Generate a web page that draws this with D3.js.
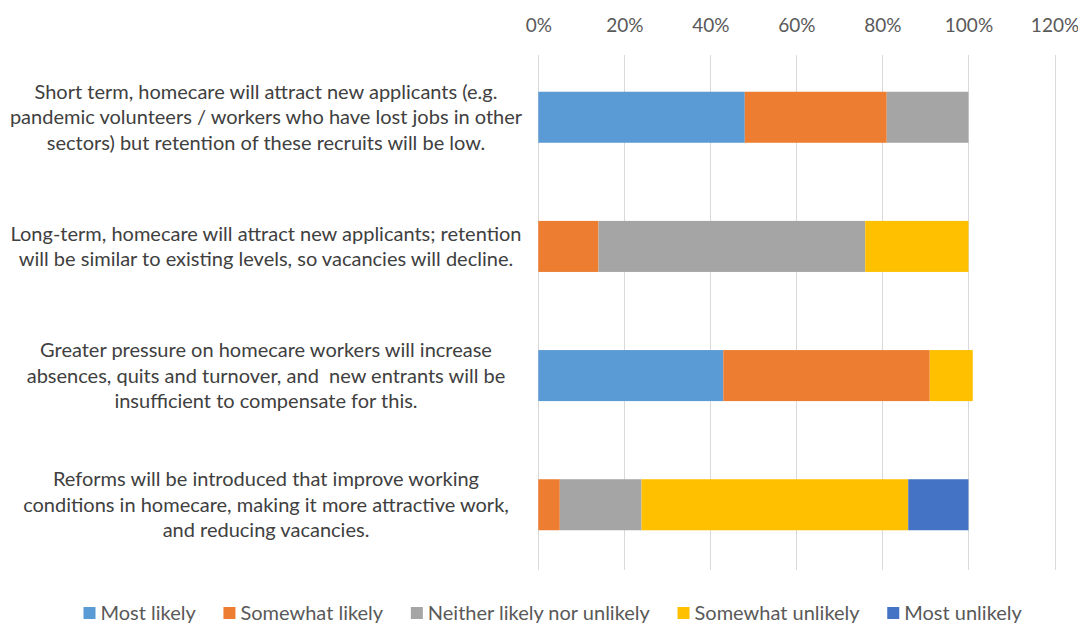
<!DOCTYPE html>
<html>
<head>
<meta charset="utf-8">
<script src="https://cdn.jsdelivr.net/npm/d3@7/dist/d3.min.js"></script>
<style>
  body { margin: 0; background: #fff; }
  text { font-family: Lato, "Open Sans", sans-serif; white-space: pre; }
</style>
</head>
<body>
<script>
var width = 1078,
    height = 623;

// statements, already broken into the lines used on the chart
var categories = [
  ["Short term, homecare will attract new applicants (e.g.",
   "pandemic volunteers / workers who have lost jobs in other",
   "sectors) but retention of these recruits will be low."],
  ["Long-term, homecare will attract new applicants; retention",
   "will be similar to existing levels, so vacancies will decline."],
  ["Greater pressure on homecare workers will increase",
   "absences, quits and turnover, and  new entrants will be",
   "insufficient to compensate for this."],
  ["Reforms will be introduced that improve working",
   "conditions in homecare, making it more attractive work,",
   "and reducing vacancies."]
];

var seriesNames = ["Most likely", "Somewhat likely", "Neither likely nor unlikely", "Somewhat unlikely", "Most unlikely"];
var seriesColors = ["#5B9BD5", "#ED7D31", "#A5A5A5", "#FFC000", "#4472C4"];

// percent per statement, in series order
var mostLikely        = [48, 0, 43, 0];
var somewhatLikely    = [33, 14, 48, 5];
var neither           = [19, 62, 0, 19];
var somewhatUnlikely  = [0, 24, 10, 62];
var mostUnlikely      = [0, 0, 0, 14];

var tickValues = [0, 0.2, 0.4, 0.6, 0.8, 1.0, 1.2];

var seriesValues = [mostLikely, somewhatLikely, neither, somewhatUnlikely, mostUnlikely];

var rows = categories.map(function(c, i) {
  var r = { idx: i };
  seriesNames.forEach(function(s, j) { r[s] = seriesValues[j][i] / 100; });
  return r;
});

var stacked = d3.stack().keys(seriesNames)(rows);

var x = d3.scaleLinear()
    .domain([0, 1.2])
    .range([538.3, 1054.5]);

var y = d3.scaleBand()
    .domain(d3.range(categories.length))
    .range([53, 569])
    .paddingInner(0.605)
    .paddingOuter(0.3);

var svg = d3.select("body").append("svg")
    .attr("width", width)
    .attr("height", height);

// gridlines
svg.append("g").selectAll("line")
    .data(tickValues)
    .enter().append("line")
    .attr("x1", d => Math.round(x(d)) + 0.5)
    .attr("x2", d => Math.round(x(d)) + 0.5)
    .attr("y1", 55)
    .attr("y2", 570)
    .attr("stroke", "#d9d9d9")
    .attr("stroke-width", 1);

// top axis labels
var xAxis = d3.axisTop(x)
    .tickValues(tickValues)
    .tickFormat(d3.format(".0%"))
    .tickSize(0)
    .tickPadding(0);

var ax = svg.append("g")
    .attr("transform", "translate(0,32)")
    .call(xAxis);
ax.select(".domain").remove();
ax.selectAll("text")
    .attr("fill", "#595959")
    .style("font-size", "19px")
    .style("font-family", "Lato, sans-serif");

// bars
svg.append("g").selectAll("g")
    .data(stacked)
    .enter().append("g")
    .attr("fill", (d, i) => seriesColors[i])
    .selectAll("rect")
    .data(d => d)
    .enter().append("rect")
    .attr("x", d => x(d[0]))
    .attr("width", d => x(d[1]) - x(d[0]))
    .attr("y", (d, i) => y(i))
    .attr("height", y.bandwidth());

// category labels
var lineH = 25.5;
var lab = svg.append("g").selectAll("text")
    .data(categories)
    .enter().append("text")
    .attr("text-anchor", "middle")
    .attr("fill", "#404040")
    .style("font-size", "20px");

lab.each(function(lines, i) {
  var cy = y(i) + y.bandwidth() / 2;
  var top = cy - (lines.length - 1) * lineH / 2;
  d3.select(this).selectAll("tspan")
    .data(lines)
    .enter().append("tspan")
    .attr("x", 266)
    .attr("y", (l, k) => top + k * lineH)
    .attr("dy", "0.35em")
    .text(l => l);
});

// legend
var legend = svg.append("g");
var lx = 0, gap = 27;
var items = legend.selectAll("g")
    .data(seriesNames)
    .enter().append("g");

items.append("rect")
    .attr("width", 12)
    .attr("height", 12)
    .attr("y", -6)
    .attr("fill", (d, i) => seriesColors[i]);

items.append("text")
    .attr("x", 17)
    .attr("dy", "0.35em")
    .attr("fill", "#595959")
    .style("font-size", "20px")
    .text(d => d);

items.each(function() {
  var w = this.getBBox().width;
  d3.select(this).attr("transform", "translate(" + lx + ",613)");
  lx += w + gap;
});
legend.attr("transform", "translate(" + ((width - (lx - gap)) / 2 + 14) + ",0)");
</script>
</body>
</html>
